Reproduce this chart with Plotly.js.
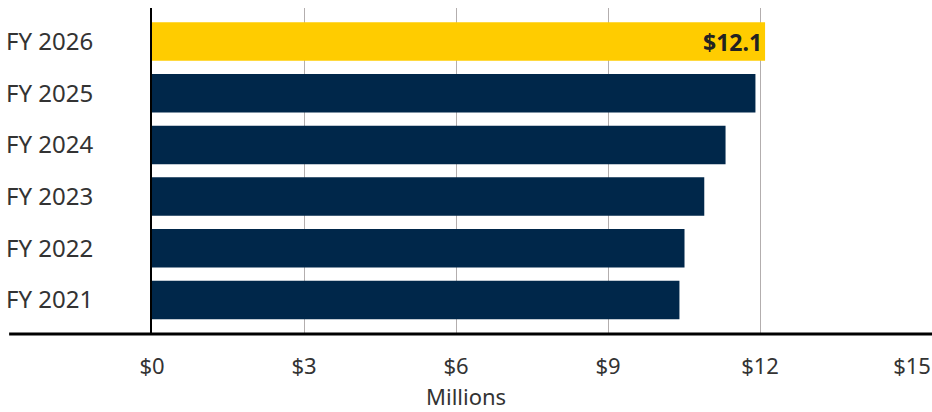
<!DOCTYPE html>
<html>
<head>
<meta charset="utf-8">
<script src="https://cdn.plot.ly/plotly-3.0.1.min.js"></script>
<style>html,body{margin:0;padding:0;background:#fff;}#chart{width:932px;height:412px;}</style>
</head>
<body>
<div id="chart"></div>
<script>
const categories = ["FY 2021", "FY 2022", "FY 2023", "FY 2024", "FY 2025", "FY 2026"];
const values = [10.41, 10.51, 10.90, 11.32, 11.91, 12.10];
const highlight = "FY 2026";
const tickValues = [0, 3, 6, 9, 12, 15];
const tickLabels = ["$0", "$3", "$6", "$9", "$12", "$15"];
const axisTitle = "Millions";

const colors = categories.map(c => c === highlight ? "#FFCC00" : "#00274A");
const labels = categories.map((c, i) => c === highlight ? "<b>$" + values[i].toFixed(1) + "</b>" : "");

const FONT = "Noto Sans, Open Sans, sans-serif";

const trace = {
  type: "bar",
  orientation: "h",
  y: categories,
  x: values,
  marker: {color: colors, line: {width: 0}},
  text: labels,
  textposition: "inside",
  insidetextanchor: "end",
  textfont: {family: FONT, size: 23, color: "#222222"},
  hoverinfo: "skip",
  cliponaxis: false
};

const layout = {
  width: 932, height: 412,
  margin: {l: 152, r: 20, t: 8, b: 78},
  paper_bgcolor: "#ffffff",
  plot_bgcolor: "#ffffff",
  bargap: 0.255,
  showlegend: false,
  font: {family: FONT, size: 22, color: "#333333"},
  xaxis: {
    range: [0, 15],
    tickvals: tickValues,
    ticktext: tickLabels,
    showgrid: true,
    gridcolor: "#b3aeae",
    gridwidth: 1,
    zeroline: false,
    showline: false,
    ticks: "",
    ticklabelstandoff: 17,
    tickfont: {family: FONT, size: 22, color: "#333333"},
    fixedrange: true
  },
  yaxis: {
    type: "category",
    categoryorder: "array",
    categoryarray: categories,
    range: [-0.66, 5.65],
    showgrid: false,
    zeroline: false,
    showline: true,
    linecolor: "#000000",
    linewidth: 2,
    ticks: "",
    ticklabelstandoff: 52,
    tickfont: {family: FONT, size: 24, color: "#333333"},
    fixedrange: true
  },
  shapes: [{
    type: "line", xref: "paper", yref: "paper",
    x0: -0.188, x1: 1.03, y0: 0, y1: 0,
    line: {color: "#000000", width: 3}
  }],
  annotations: [{
    text: axisTitle, xref: "paper", yref: "paper",
    x: 0.413, y: -0.19, xanchor: "center", yanchor: "middle",
    showarrow: false, borderpad: 0, height: 24, valign: "middle",
    font: {family: FONT, size: 22, color: "#333333"}
  }]
};

Plotly.newPlot("chart", [trace], layout, {displayModeBar: false, staticPlot: true});
</script>
</body>
</html>
